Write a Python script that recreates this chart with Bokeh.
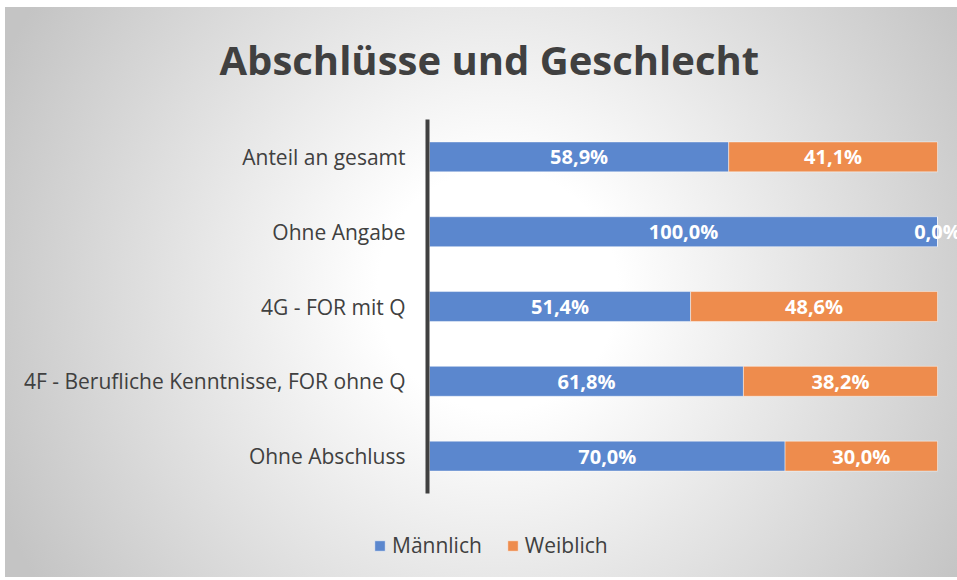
from bokeh.plotting import figure
from bokeh.models import (ColumnDataSource, Range1d, Legend, LegendItem, Label,
                          InlineStyleSheet, FixedTicker)
from bokeh.embed import file_html
from bokeh.resources import INLINE
from bokeh.core.properties import value

# ---- data ----
categories = ["Ohne Abschluss",
              "4F - Berufliche Kenntnisse, FOR ohne Q",
              "4G - FOR mit Q",
              "Ohne Angabe",
              "Anteil an gesamt"]
maennlich = [70.0, 61.8, 51.4, 100.0, 58.9]
weiblich = [30.0, 38.2, 48.6, 0.0, 41.1]
series_names = ["Männlich", "Weiblich"]
title_text = "Abschlüsse und Geschlecht"

BLUE = "#5B87CE"
ORANGE = "#EE8C4D"
TXT = "#404040"
FONT = "Open Sans"


def fmt(v):
    return f"{v:.1f}".replace(".", ",") + "%"


pos = list(range(len(categories)))
src = ColumnDataSource(dict(
    pos=pos,
    m=maennlich,
    w=weiblich,
    m_mid=[v / 2 for v in maennlich],
    w_mid=[a + b / 2 for a, b in zip(maennlich, weiblich)],
    m_lab=[fmt(v) for v in maennlich],
    w_lab=[fmt(v) for v in weiblich],
))

W, H = 957, 580
p = figure(width=W, height=H, output_backend="svg", toolbar_location=None,
           x_range=Range1d(-84.45, 103.94), y_range=Range1d(-1.663, 6.091),
           x_axis_location=None,
           min_border_left=0, min_border_right=0, min_border_top=0, min_border_bottom=0)
p.title.visible = False

p.background_fill_alpha = 0
p.border_fill_alpha = 0
p.outline_line_color = None
p.stylesheets = [InlineStyleSheet(css=(
    ":host { background:"
    " linear-gradient(#ffffff,#ffffff) top left / 100% 7px no-repeat,"
    " linear-gradient(#ffffff,#ffffff) top left / 5px 100% no-repeat,"
    " linear-gradient(#ffffff,#ffffff) bottom left / 100% 3px no-repeat,"
    " radial-gradient(circle 545px at 52% 50%, #ffffff 0%, #ffffff 22%, #c4c4c4 100%); }"
))]
p.xgrid.visible = False
p.ygrid.visible = False

renderers = p.hbar_stack(["m", "w"], y="pos", height=0.4, color=[BLUE, ORANGE],
                         line_color="white", line_alpha=0.45, line_width=1, source=src)

for xcol, lcol in (("m_mid", "m_lab"), ("w_mid", "w_lab")):
    p.text(x=xcol, y="pos", text=lcol, source=src, text_font=value(FONT),
           text_font_style="bold", text_font_size="20px", text_color="white",
           text_align="center", text_baseline="middle")

ax = p.yaxis[0]
ax.fixed_location = -0.39
ax.bounds = (-0.5, len(categories) - 0.5)
ax.ticker = FixedTicker(ticks=pos)
ax.major_label_overrides = {i: c for i, c in zip(pos, categories)}
ax.minor_tick_line_color = None
ax.axis_line_width = 4
ax.axis_line_color = TXT
ax.major_tick_line_color = None
ax.major_tick_out = 0
ax.major_tick_in = 0
ax.major_label_standoff = 22
ax.major_label_text_font = FONT
ax.major_label_text_font_size = "21px"
ax.major_label_text_color = TXT

title = Label(text=title_text, x=219, y=H - 59, x_units="screen", y_units="screen",
              text_font=FONT, text_font_style="bold", text_font_size="40px",
              text_color=TXT, text_align="left", text_baseline="alphabetic")
p.add_layout(title)

legend = Legend(items=[LegendItem(label=n, renderers=[r]) for n, r in zip(series_names, renderers)],
                orientation="horizontal", location=(373, 21),
                label_text_font=FONT, label_text_font_size="21px", label_text_color=TXT,
                glyph_width=13, glyph_height=13, label_standoff=6, spacing=24,
                padding=0, margin=0, border_line_color=None, background_fill_alpha=0)
p.add_layout(legend)

open("out.html", "w").write(file_html(p, INLINE))
